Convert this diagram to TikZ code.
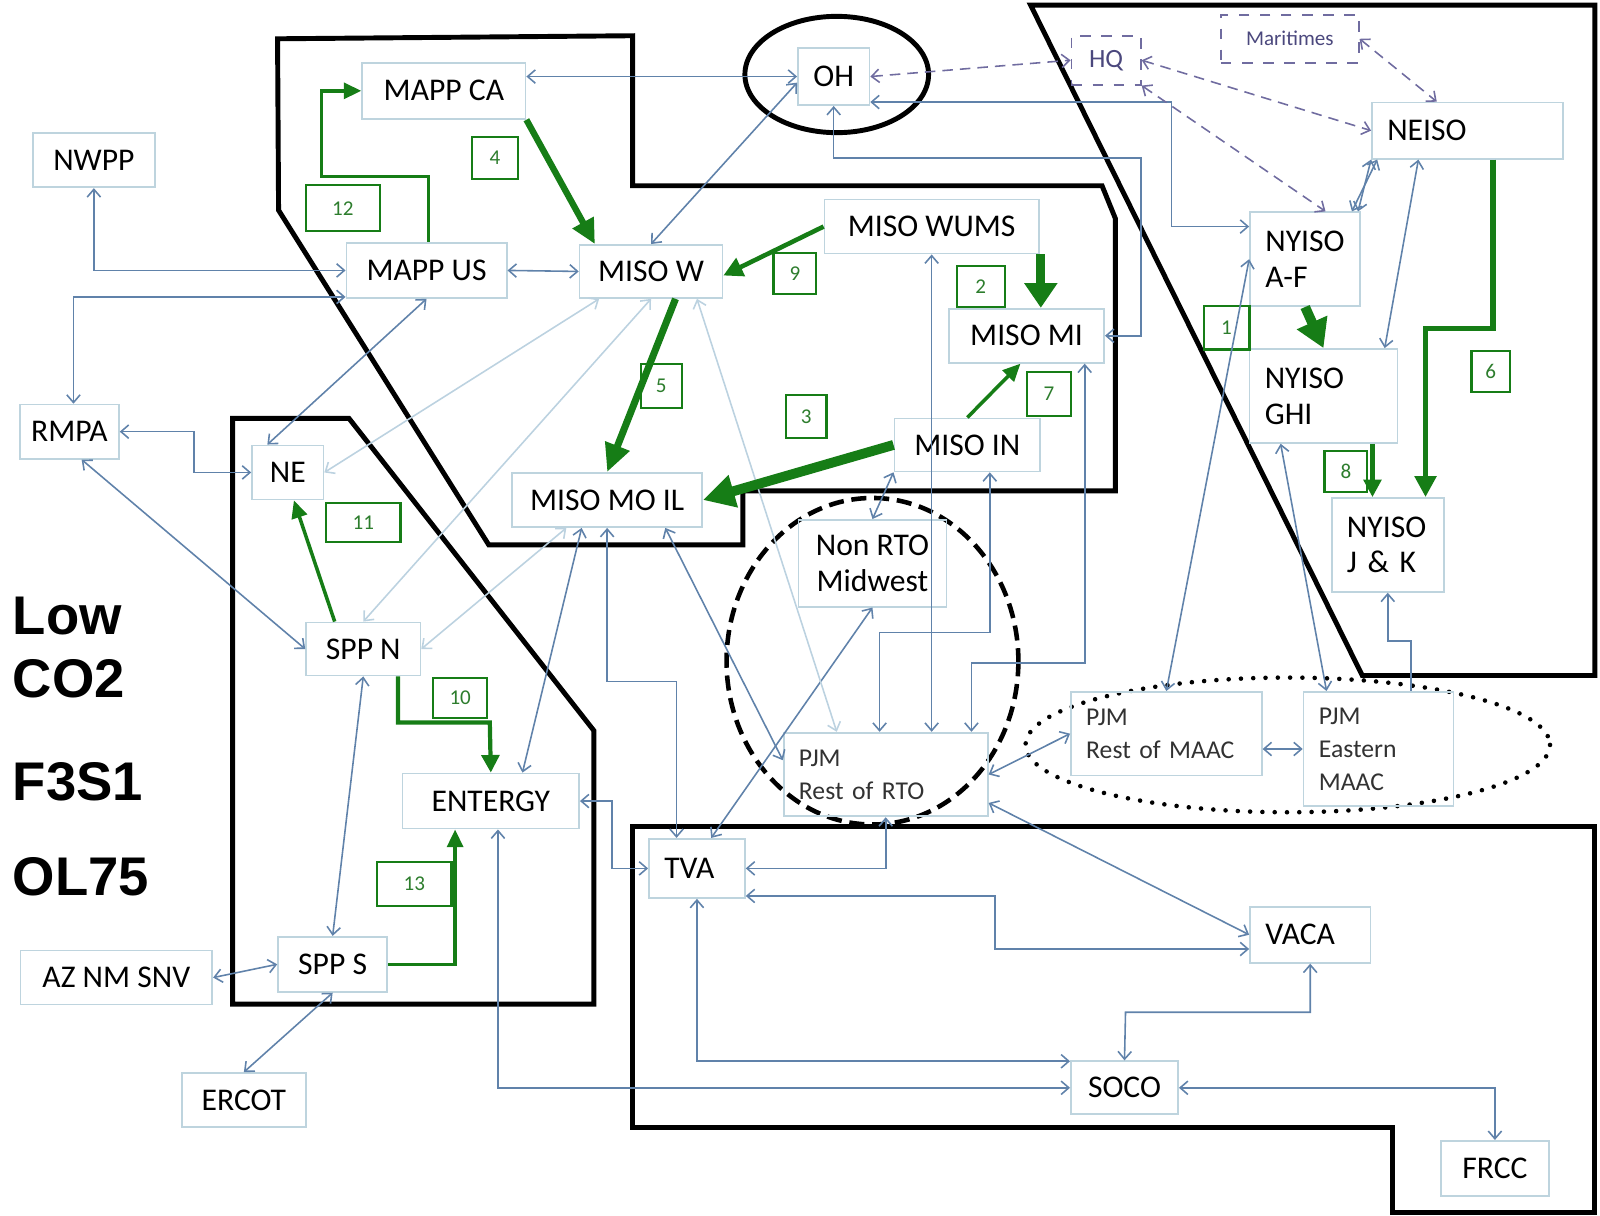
\documentclass[tikz,border=0pt]{standalone}
\usepackage{fontspec}
\setmainfont{Carlito}
\newfontfamily\headfont{Liberation Sans}
\usetikzlibrary{arrows.meta}

\newlength{\unitpx}
\setlength{\unitpx}{0.010204cm}

\definecolor{boxline}{RGB}{190,212,222}
\definecolor{linkblue}{RGB}{96,130,170}
\definecolor{faintblue}{RGB}{188,210,224}
\definecolor{flowgreen}{RGB}{22,125,22}
\definecolor{tagtext}{RGB}{45,125,45}
\definecolor{tiepurple}{RGB}{112,108,160}
\definecolor{tietext}{RGB}{75,72,125}
\definecolor{pjmtext}{RGB}{50,50,50}

\begin{document}
\begin{tikzpicture}[
        x=0.010204cm, y=-0.010204cm,
        box/.style={draw=boxline, line width=0.5pt, inner sep=0pt, font=\fontsize{9}{10.2}\selectfont},
        cbox/.style 2 args={box, minimum width=#1\unitpx, minimum height=#2\unitpx},
        lbox/.style 2 args={box, align=left, inner xsep=15\unitpx, text width=#1\unitpx, minimum height=#2\unitpx},
        pjm/.style={font=\fontsize{7.3}{9.4}\selectfont, text=pjmtext},
        ext/.style 2 args={cbox={#1}{#2}, draw=tiepurple, dashed, text=tietext},
        tag/.style 2 args={draw=flowgreen, line width=0.6pt, inner sep=0pt, text=tagtext, font=\fontsize{6}{7}\selectfont, minimum width=#1\unitpx, minimum height=#2\unitpx},
        note/.style={anchor=base west, inner sep=0pt, font=\headfont\bfseries\fontsize{15.5}{17}\selectfont},
        border/.style={draw=black, line width=1.4pt},
        link/.style={draw=linkblue, line width=0.45pt, {Straight Barb[length=2.2pt,width=3.8pt]}-{Straight Barb[length=2.2pt,width=3.8pt]}},
        oneway/.style={link, -{Straight Barb[length=2.2pt,width=3.8pt]}},
        faint/.style={link, draw=faintblue},
        tie/.style={link, draw=tiepurple, dash pattern=on 3pt off 2pt},
        flow/.style n args={3}{draw=flowgreen, line width=#1pt, -{Triangle[length=#2pt,width=#3pt]}}
        ]
        \useasboundingbox (0,0) rectangle (1568,1191);

        % Regions
        \draw[border] (272,38) -- (620,35) -- (620,182) -- (1080,182) -- (1093,214) -- (1093,481) -- (728,481) -- (728,534) -- (479,534) -- (273,206) -- cycle;
        \draw[border] (228,410) -- (342,410) -- (582,716) -- (582,984) -- (228,984) -- cycle;
        \draw[border] (1010,5) -- (1563,5) -- (1563,662) -- (1335,662) -- cycle;
        \draw[border] (620,810) -- (1563,810) -- (1563,1188) -- (1365,1188) -- (1365,1105) -- (620,1105) -- cycle;
        \draw[border] (820,73) ellipse [x radius=90, y radius=57];
        \draw[black, line width=1.3pt, dash pattern=on 4.3pt off 2.2pt] (855,648) ellipse [x radius=143, y radius=160];
        \draw[black, line width=1.3pt, line cap=round, dash pattern=on 0pt off 3.5pt] (1262,730) ellipse [x radius=257, y radius=66];

        % Nodes
        \node (mappca) [cbox={160}{55}] at (435,89) {MAPP CA};
        \node (nwpp) [cbox={120}{53}] at (92,157) {NWPP};
        \node (mappus) [cbox={157}{54}] at (418,265) {MAPP US};
        \node (misow) [cbox={140}{52}] at (638,266) {MISO W};
        \node (oh) [cbox={70}{56}] at (817,75) {OH};
        \node (hq) [ext={68}{48}, font=\fontsize{7.5}{9}\selectfont] at (1084,59) {HQ};
        \node (maritimes) [ext={135}{47}, font=\fontsize{6}{7}\selectfont] at (1264,38) {Maritimes};
        \node (neiso) [lbox={157}{55}] at (1438,128) {NEISO};
        \node (misowums) [cbox={210}{53}] at (913,222) {MISO WUMS};
        \node (misomi) [cbox={152}{53}] at (1006,329) {MISO MI};
        \node (nyisoaf) [lbox={78}{92}] at (1279,254) {NYISO\\A-F};
        \node (nyisoghi) [lbox={115}{92}] at (1297,388) {NYISO\\GHI};
        \node (nyisojk) [lbox={80}{92}] at (1360,534) {NYISO\\J \& K};
        \node (rmpa) [cbox={97}{53}] at (68,423) {RMPA};
        \node (ne) [cbox={70}{53}] at (282,463) {NE};
        \node (misomoil) [cbox={186}{53}] at (595,490) {MISO MO IL};
        \node (misoin) [cbox={143}{52}] at (948,436) {MISO IN};
        \node (nonrto) [cbox={145}{85}, align=center] at (855,552) {Non RTO\\Midwest};
        \node (sppn) [cbox={112}{52}] at (356,636) {SPP N};
        \node (pjmrto) [lbox={170}{82}, pjm] at (868,759) {PJM\\Rest of RTO};
        \node (pjmmaac) [lbox={157}{82}, pjm] at (1143,719) {PJM\\Rest of MAAC};
        \node (pjmeast) [lbox={117}{112}, pjm] at (1351,734) {PJM\\Eastern\\MAAC};
        \node (entergy) [cbox={173}{54}] at (481,785) {ENTERGY};
        \node (tva) [lbox={64}{58}] at (683,851) {TVA};
        \node (vaca) [lbox={88}{55}] at (1284,916) {VACA};
        \node (aznm) [cbox={188}{53}] at (114,958) {AZ NM SNV};
        \node (spps) [cbox={107}{54}] at (326,945) {SPP S};
        \node (ercot) [cbox={122}{53}] at (239,1078) {ERCOT};
        \node (soco) [cbox={105}{52}] at (1102,1066) {SOCO};
        \node (frcc) [cbox={106}{54}] at (1465,1145) {FRCC};

        \node (t1) [tag={45}{43}] at (1202,321) {1};
        \node (t2) [tag={47}{40}] at (961,281) {2};
        \node (t3) [tag={40}{42}] at (790,408) {3};
        \node (t4) [tag={45}{41}] at (485,155) {4};
        \node (t5) [tag={40}{43}] at (648,378) {5};
        \node (t6) [tag={38}{40}] at (1461,364) {6};
        \node (t7) [tag={43}{43}] at (1028,386) {7};
        \node (t8) [tag={42}{40}] at (1319,462) {8};
        \node (t9) [tag={42}{40}] at (779,268) {9};
        \node (t10) [tag={53}{40}] at (451,684) {10};
        \node (t11) [tag={73}{39}] at (356,512) {11};
        \node (t12) [tag={72}{45}] at (336,204) {12};
        \node (t13) [tag={73}{43}] at (406,866) {13};

        \node (low) [note] at (12,622) {Low};
        \node (co2) [note] at (12,684) {CO2};
        \node (f3s1) [note] at (12,784) {F3S1};
        \node (ol75) [note] at (12,878) {OL75};

        % Arrows
        \draw[link] (mappca.east |- oh.west) -- (oh.west);
        \draw[link] (misow.north) -- ([yshift=-6\unitpx]oh.west);
        \draw[link] (oh.south) |- (1118,155) |- (misomi.east);
        \draw[link] ([yshift=-25\unitpx]oh.east) -- (1148,100) |- ([yshift=32\unitpx]nyisoaf.west);
        \draw[tie] (oh.east) -- (hq.west);
        \draw[tie] (hq.east) -- (neiso.west);
        \draw[tie] (hq.south east) -- ([xshift=20\unitpx]nyisoaf.north);
        \draw[tie] (maritimes.east) -- ([xshift=-30\unitpx]neiso.north);
        \draw[link] (neiso.south west) -- ([xshift=-3\unitpx]nyisoaf.north east);
        \draw[link] ([xshift=6\unitpx]neiso.south west) -- ([xshift=-9\unitpx]nyisoaf.north east);
        \draw[link] ([xshift=-48\unitpx]neiso.south) -- ([xshift=60\unitpx]nyisoghi.north);
        \draw[link] (nyisoaf.west) -- (pjmmaac.north);
        \draw[link] ([xshift=-42\unitpx]nyisoghi.south) -- ([xshift=-51\unitpx]pjmeast.north);
        \draw[oneway] ([xshift=32\unitpx]pjmeast.north) |- (1360,628) -- (nyisojk.south);
        \draw[link] (pjmmaac.east |- pjmeast.west) -- (pjmeast.west);
        \draw[link] (pjmrto.east) -- (pjmmaac.west);
        \draw[link] ([yshift=14\unitpx]pjmrto.south east) -- (vaca.west);
        \draw[link] (pjmrto.south) |- (tva.east);
        \draw[link] ([yshift=-27\unitpx]tva.east) -| (975,930) -- ([yshift=-14\unitpx]vaca.west);
        \draw[link] (tva.south) |- ([yshift=26\unitpx]soco.west);
        \draw[link] (vaca.south) |- (1103,992) -- (soco.north);
        \draw[link] (soco.east) -| (frcc.north);
        \draw[link] ([xshift=7\unitpx]entergy.south) |- (soco.west);
        \draw[link] (entergy.east) -| (600,851) -- (tva.west);
        \draw[link] (misomoil.south) |- (663,668) -- ([xshift=-20\unitpx]tva.north);
        \draw[link] ([xshift=-25\unitpx]misomoil.south) -- ([xshift=31\unitpx]entergy.north);
        \draw[link] ([xshift=57\unitpx]misomoil.south) -- ([yshift=14\unitpx]pjmrto.west);
        \draw[link] (nonrto.south) -- ([xshift=14\unitpx]tva.north);
        \draw[link] (misoin.south west) -- (nonrto.north);
        \draw[link] (misowums.south) -- (misowums.south |- pjmrto.north);
        \draw[link] ([xshift=22\unitpx]misoin.south) |- (862,620) -- ([xshift=-6\unitpx]pjmrto.north);
        \draw[link] ([xshift=57\unitpx]misomi.south) |- (952,650) -- ([xshift=84\unitpx]pjmrto.north);
        \draw[link] (mappus.east) -- (misow.west);
        \draw[link] (nwpp.south) |- (mappus.west);
        \draw[link] ([xshift=4\unitpx]rmpa.north) |- ([yshift=-26\unitpx]mappus.west);
        \draw[link] (mappus.south) -- ([xshift=-20\unitpx]ne.north);
        \draw[link] (rmpa.east) -| (190,463) -- (ne.west);
        \draw[link] ([xshift=12\unitpx]rmpa.south) -- (sppn.west);
        \draw[link] (sppn.south) -- (spps.north);
        \draw[link] (aznm.east) -- (spps.west);
        \draw[link] (spps.south) -- (ercot.north);
        \draw[faint] ([xshift=20\unitpx]misow.south west) -- (ne.east);
        \draw[faint] (misow.south) -- (sppn.north);
        \draw[faint] ([xshift=-40\unitpx]misomoil.south) -- (sppn.east);
        \draw[faint] ([xshift=45\unitpx]misow.south) -- ([xshift=-48\unitpx]pjmrto.north);

        \draw[flow={1.8}{7}{6.5}] (mappca.south east) -- ([xshift=-55\unitpx]misow.north);
        \draw[flow={1}{5}{4.5}] ([xshift=2\unitpx]mappus.north) |- (315,173) |- (mappca.west);
        \draw[flow={1.3}{5.5}{5.5}] (misowums.west) -- ([yshift=-4\unitpx]misow.east);
        \draw[flow={2.6}{7}{9}] ([xshift=107\unitpx]misowums.south) -- ([xshift=14\unitpx]misomi.north);
        \draw[flow={2}{8}{7}] ([xshift=24\unitpx]misow.south) -- (misomoil.north);
        \draw[flow={2.8}{9}{9}] (misoin.west) -- (misomoil.east);
        \draw[flow={1}{5}{4.5}] (misoin.north) -- ([xshift=-6\unitpx]misomi.south);
        \draw[flow={2.8}{8}{9}] (nyisoaf.south) -- (nyisoghi.north);
        \draw[flow={1.6}{6}{6}] ([xshift=25\unitpx]neiso.south) |- (1397,322) -- ([xshift=37\unitpx]nyisojk.north);
        \draw[flow={1.2}{5}{5}] ([xshift=48\unitpx]nyisoghi.south) -- ([xshift=-15\unitpx]nyisojk.north);
        \draw[flow={1}{5}{4.5}] ([xshift=-28\unitpx]sppn.north) -- ([xshift=6\unitpx]ne.south);
        \draw[flow={1.2}{5}{5}] ([xshift=34\unitpx]sppn.south) |- (480,708) -- (entergy.north);
        \draw[flow={1}{5}{4.5}] (spps.east) -| ([xshift=-35\unitpx]entergy.south);
\end{tikzpicture}
\end{document}
